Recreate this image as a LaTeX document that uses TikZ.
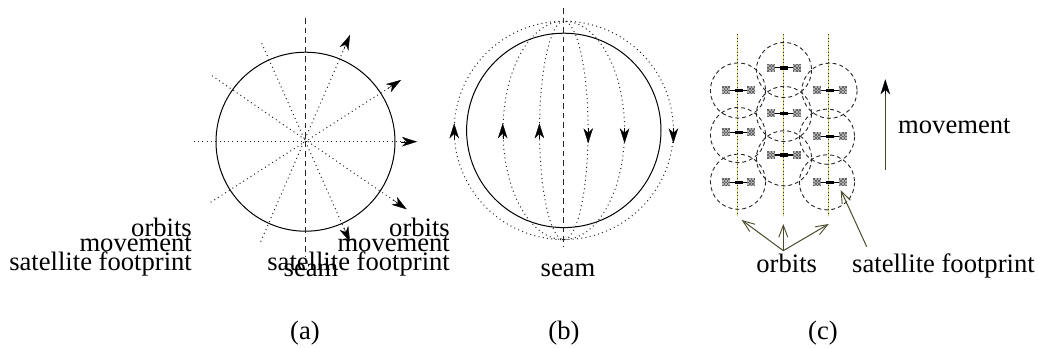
\documentclass[tikz,border=0pt]{standalone}
\usepackage{fontspec}
\setmainfont{Liberation Serif}
\usetikzlibrary{arrows.meta}
\definecolor{orbitline}{HTML}{4A4A2A}
\definecolor{orbitgold}{HTML}{D8D060}
\tikzset{
  x=1pt,y=-1pt,
  lbl/.style={inner sep=0pt,font=\fontsize{26.6}{26.6}\selectfont},
  globe/.style={draw=black,line width=1pt},
  seamline/.style={draw=black!85,line width=1pt,dash pattern=on 5.5pt off 4pt},
  dotline/.style={draw=black!85,line width=1pt,dash pattern=on 1pt off 3.3pt},
  headtip/.style={-{Stealth[length=15pt,width=9.5pt,inset=4.5pt]}},
  foot/.style={draw=black!85,line width=0.9pt,dash pattern=on 4pt off 3pt},
  track/.style={draw=orbitgold,line width=1pt},
  pointer/.style={draw=orbitline,line width=1pt,-{Straight Barb[length=12pt,width=9pt,line width=0.9pt]}},
  sat/.pic={
    \foreach \sx in {-12.7,12.7}{
      \fill[gray!60] (\sx-4,-4) rectangle (\sx+4,4);
      \foreach \i in {0,...,4}\foreach \j in {0,...,4}{
        \pgfmathparse{int(mod(\i+\j,2))}
        \ifnum\pgfmathresult=0
          \fill[black!60] (\sx-4+1.6*\i,-4+1.6*\j) rectangle ++(1.6,1.6);
        \fi
      }
    }
    \draw[black,line width=1.1pt] (-8.7,0) -- (8.7,0);
    \fill[black] (-4,-1.8) rectangle (4,1.8);
  }
}
\begin{document}
\begin{tikzpicture}
\useasboundingbox (0,0) rectangle (1039,348);
% ---------- (a)
\coordinate (ac) at (305.5,141.7);
\node[globe,circle,minimum size=179pt,inner sep=0pt] (aglobe) at (ac) {};
\coordinate (as1) at (305,18); \coordinate (as2) at (305,257);
\draw[seamline] (as1) -- (as2);
\coordinate (a1s) at (193.7,141.7); \coordinate (a1e) at (417,141.7);
\coordinate (a2s) at (261.7,43.3);  \coordinate (a2e) at (350,241.7);
\coordinate (a3s) at (212,75.7);    \coordinate (a3e) at (406.7,209.3);
\coordinate (a4s) at (210.7,202.3); \coordinate (a4e) at (401,80);
\coordinate (a5s) at (260.7,241.7); \coordinate (a5e) at (350,35);
\foreach \n in {1,...,5}{
  \draw[dotline] (a\n s) -- (a\n e);
  \path (a\n s) -- (a\n e) coordinate[pos=0.93] (a\n t);
  \draw[headtip,draw=black,fill=black,line width=0.3pt] (a\n t) -- (a\n e);
}
\node[lbl,anchor=base east] (a1) at (192,236) {orbits};
\node[lbl,anchor=base east] (a2) at (192,251.7) {movement};
\node[lbl,anchor=base east] (a3) at (192,270.7) {satellite footprint};
\node[lbl,anchor=base east] (a4) at (450,236) {orbits};
\node[lbl,anchor=base east] (a5) at (450,251.7) {movement};
\node[lbl,anchor=base east] (a6) at (450,270.7) {satellite footprint};
\node[lbl,anchor=base] (aseam) at (311,276) {seam};
\node[lbl,anchor=base] (acap) at (305,339) {(a)};
% ---------- (b)
\coordinate (bc) at (563.8,130.4);
\node[globe,circle,minimum size=194.4pt,inner sep=0pt] (bglobe) at (bc) {};
\coordinate (bs1) at (563.7,8); \coordinate (bs2) at (563.7,247);
\draw[seamline] (bs1) -- (bs2);
\foreach \r in {24.3,60.8,109.6}{
  \draw[dotline] (bc) ++(0,-109.2) arc[start angle=90,end angle=450,x radius=\r pt,y radius=109.2pt];
}
\foreach \xx in {454.2,502.7,539.4}{
  \coordinate (bu) at (\xx,139); \coordinate (bv) at (\xx,123.3);
  \draw[headtip,draw=black,fill=black,line width=0.3pt] (bu) -- (bv);
}
\foreach \xx in {588.2,624.6,673.4}{
  \coordinate (bu) at (\xx,128); \coordinate (bv) at (\xx,143.3);
  \draw[headtip,draw=black,fill=black,line width=0.3pt] (bu) -- (bv);
}
\node[lbl,anchor=base] (bseam) at (568,276) {seam};
\node[lbl,anchor=base] (bcap) at (564,339) {(b)};
% ---------- (c)
\foreach \n/\xx in {1/737.7,2/783,3/828.7}{
  \coordinate (t\n s) at (\xx,34); \coordinate (t\n e) at (\xx,216);
  \draw[track] (t\n s) -- (t\n e);
  \draw[draw=black!80,line width=0.8pt,dash pattern=on 0.9pt off 2.6pt] (t\n s) -- (t\n e);
}
\foreach \xx/\yy in {738/90.5,738/135,738/181.7,784/70,784/114,784/158.3,829.5/90.7,827/136.7,827/182.3}{
  \draw[foot] (\xx,\yy) circle[radius=27.6];
}
\foreach \xx/\yy in {738.7/90.3,738.7/132.3,738.7/182.3,784/67.7,784/113.3,784/155,830/90.3,830/136.3,830/182.3}{
  \pic at (\xx,\yy) {sat};
}
\coordinate (apex) at (783.3,250.7);
\coordinate (o1) at (741.7,220); \coordinate (o2) at (783.3,224); \coordinate (o3) at (828.7,224);
\draw[pointer] (apex) -- (o1);
\draw[pointer] (apex) -- (o2);
\draw[pointer] (apex) -- (o3);
\coordinate (ft) at (866.7,246.7); \coordinate (fh) at (840.7,190);
\draw[pointer] (ft) -- (fh);
\coordinate (ms) at (885.3,170); \coordinate (me) at (885.3,79.3);
\coordinate (mt) at (885.3,94);
\draw[draw=orbitline,line width=1.3pt] (ms) -- (mt);
\draw[headtip,draw=black,fill=black,line width=0.3pt] (mt) -- (me);
\node[lbl,anchor=base] (corbits) at (786.7,272.7) {orbits};
\node[lbl,anchor=base west] (cfoot) at (852,272.7) {satellite footprint};
\node[lbl,anchor=base west] (cmove) at (898,133.3) {movement};
\node[lbl,anchor=base] (ccap) at (823,339) {(c)};
\end{tikzpicture}
\end{document}
